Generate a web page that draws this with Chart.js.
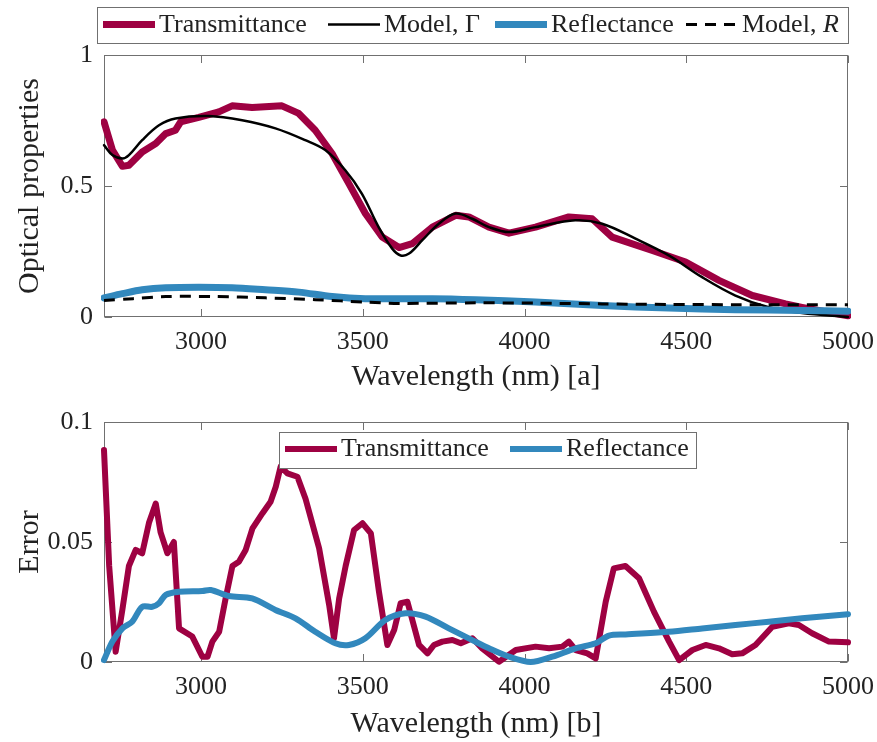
<!DOCTYPE html>
<html>
<head>
<meta charset="utf-8">
<script src="https://cdn.jsdelivr.net/npm/chart.js@4.4.1/dist/chart.umd.min.js"></script>
<style>
  html, body { margin: 0; padding: 0; background: #fff; }
  #wrap { position: relative; width: 877px; height: 742px; }
  #topChart { position: absolute; left: 0; top: 0; }
  #botChart { position: absolute; left: 0; top: 400px; }
</style>
</head>
<body>
<div id="wrap">
  <canvas id="topChart" width="877" height="400"></canvas>
  <canvas id="botChart" width="877" height="342"></canvas>
</div>
<script>
// ---- data ----
const xTicks = [3000, 3500, 4000, 4500, 5000];
const topYTicks = [0, 0.5, 1];
const botYTicks = [0, 0.05, 0.1];

// (a) optical properties
const transWl = [2700, 2726, 2757, 2777, 2818, 2860, 2891, 2921, 2937, 2993, 3055, 3096, 3158, 3250, 3302, 3353, 3405, 3457, 3508, 3560, 3612, 3653, 3715, 3787, 3828, 3890, 3952, 4034, 4137, 4209, 4271, 4395, 4498, 4601, 4704, 4807, 4858, 4930, 5000];
const transVal = [0.745, 0.637, 0.575, 0.579, 0.630, 0.662, 0.700, 0.713, 0.745, 0.762, 0.783, 0.806, 0.800, 0.806, 0.777, 0.713, 0.624, 0.509, 0.395, 0.305, 0.265, 0.280, 0.343, 0.388, 0.382, 0.343, 0.320, 0.343, 0.382, 0.375, 0.305, 0.254, 0.210, 0.140, 0.082, 0.050, 0.037, 0.020, 0.005];

const modelTWl = [2700, 2726, 2757, 2777, 2818, 2870, 2921, 3024, 3127, 3230, 3322, 3384, 3446, 3497, 3549, 3591, 3617, 3643, 3684, 3735, 3787, 3838, 3890, 3952, 4034, 4157, 4240, 4343, 4446, 4549, 4652, 4755, 4858, 5000];
const modelTVal = [0.656, 0.618, 0.605, 0.618, 0.675, 0.732, 0.758, 0.767, 0.751, 0.720, 0.675, 0.637, 0.560, 0.471, 0.343, 0.261, 0.235, 0.242, 0.293, 0.356, 0.395, 0.375, 0.343, 0.324, 0.343, 0.369, 0.356, 0.299, 0.235, 0.152, 0.082, 0.037, 0.015, 0.0];

const reflWl = [2700, 2757, 2818, 2891, 2993, 3096, 3199, 3302, 3405, 3508, 3715, 3849, 4034, 4240, 4446, 4652, 4858, 5000];
const reflVal = [0.073, 0.089, 0.104, 0.112, 0.114, 0.112, 0.104, 0.095, 0.078, 0.070, 0.070, 0.066, 0.057, 0.044, 0.034, 0.028, 0.025, 0.022];

const modelRWl = [2700, 2790, 2891, 3044, 3199, 3353, 3508, 3612, 3849, 4034, 4240, 4446, 4652, 5000];
const modelRVal = [0.063, 0.070, 0.078, 0.078, 0.073, 0.066, 0.057, 0.052, 0.054, 0.053, 0.050, 0.048, 0.047, 0.047];

// (b) error
const errTWl = [2700, 2716, 2736, 2757, 2777, 2798, 2818, 2839, 2860, 2875, 2896, 2916, 2932, 2973, 3004, 3020, 3035, 3056, 3076, 3097, 3117, 3138, 3159, 3190, 3215, 3231, 3246, 3267, 3298, 3323, 3365, 3396, 3411, 3427, 3447, 3473, 3499, 3525, 3550, 3576, 3597, 3617, 3638, 3674, 3700, 3720, 3746, 3777, 3803, 3839, 3869, 3921, 3973, 4034, 4076, 4117, 4137, 4158, 4194, 4220, 4251, 4276, 4312, 4354, 4400, 4447, 4478, 4519, 4560, 4601, 4642, 4673, 4714, 4766, 4817, 4848, 4889, 4941, 5000];
const errTVal = [0.0883, 0.040, 0.0043, 0.022, 0.040, 0.0467, 0.0453, 0.058, 0.066, 0.054, 0.0453, 0.050, 0.014, 0.0106, 0.0022, 0.0022, 0.0085, 0.0126, 0.0265, 0.040, 0.0418, 0.0467, 0.0557, 0.062, 0.0668, 0.073, 0.0814, 0.0786, 0.0772, 0.068, 0.0474, 0.0238, 0.0099, 0.0265, 0.040, 0.055, 0.0578, 0.0536, 0.0293, 0.0071, 0.0133, 0.0245, 0.0251, 0.0071, 0.0036, 0.0071, 0.0085, 0.0092, 0.0078, 0.0099, 0.0057, 0.0001, 0.005, 0.0064, 0.0057, 0.0064, 0.0085, 0.005, 0.0036, 0.0015, 0.0251, 0.039, 0.040, 0.0349, 0.021, 0.0085, 0.0008, 0.005, 0.0071, 0.0057, 0.0032, 0.0036, 0.0071, 0.0147, 0.0161, 0.0154, 0.012, 0.0085, 0.0082];

const errRWl = [2700, 2726, 2757, 2787, 2818, 2849, 2870, 2891, 2932, 3004, 3030, 3086, 3158, 3230, 3292, 3353, 3415, 3457, 3508, 3570, 3632, 3694, 3766, 3840, 3890, 3952, 4019, 4086, 4158, 4220, 4261, 4312, 4446, 4549, 4652, 4755, 4858, 5000];
const errRVal = [0.0008, 0.0085, 0.014, 0.0168, 0.023, 0.023, 0.0245, 0.028, 0.0293, 0.0296, 0.030, 0.0275, 0.0265, 0.0217, 0.0182, 0.0126, 0.0078, 0.0071, 0.0099, 0.0175, 0.0203, 0.0189, 0.014, 0.009, 0.0057, 0.0022, 0.0, 0.0022, 0.0057, 0.0078, 0.011, 0.0115, 0.0126, 0.014, 0.0154, 0.0168, 0.0182, 0.0199];

const RED = '#9E0142';
const BLUE = '#3288BD';
const AXIS = '#707070';
const TEXT = '#222222';
const SERIF = '"Liberation Serif", "Times New Roman", serif';

Chart.defaults.font.family = SERIF;
Chart.defaults.color = TEXT;

function pairs(xs, ys) {
  return xs.map((x, i) => ({ x: x, y: ys[i] }));
}

// scales must not push the plot box around with label overhang
function noOverhang(s) {
  s.paddingLeft = 0; s.paddingRight = 0; s.paddingTop = 0; s.paddingBottom = 0;
}

// box + inward ticks, MATLAB style
const boxAxes = {
  id: 'boxAxes',
  beforeDatasetsDraw(chart) {
    const { ctx, chartArea: a, scales } = chart;
    const L = Math.round(a.left) + 0.5, R = Math.round(a.right) - 0.5;
    const T = Math.round(a.top) + 0.5, B = Math.round(a.bottom) - 0.5;
    const len = 7.5;
    ctx.save();
    ctx.strokeStyle = AXIS;
    ctx.lineWidth = 1;
    ctx.strokeRect(L, T, R - L, B - T);
    ctx.beginPath();
    scales.x.ticks.forEach(t => {
      const px = Math.round(scales.x.getPixelForValue(t.value)) + 0.5;
      ctx.moveTo(px, B); ctx.lineTo(px, B - len);
      ctx.moveTo(px, T); ctx.lineTo(px, T + len);
    });
    scales.y.ticks.forEach(t => {
      const py = Math.round(scales.y.getPixelForValue(t.value)) + 0.5;
      ctx.moveTo(L, py); ctx.lineTo(L + len, py);
      ctx.moveTo(R, py); ctx.lineTo(R - len, py);
    });
    ctx.stroke();
    ctx.restore();
  }
};

// framed legend with a line swatch per dataset
const boxLegend = {
  id: 'boxLegend',
  afterDraw(chart, args, opts) {
    const ctx = chart.ctx;
    const [bx, by, bw, bh] = opts.box;
    ctx.save();
    ctx.fillStyle = '#fff';
    ctx.fillRect(bx, by, bw, bh);
    ctx.strokeStyle = AXIS;
    ctx.lineWidth = 1;
    ctx.strokeRect(bx + 0.5, by + 0.5, bw, bh);
    chart.data.datasets.forEach((ds, i) => {
      const sx = opts.slots[i];
      ctx.strokeStyle = ds.borderColor;
      ctx.lineWidth = ds.borderWidth;
      ctx.lineCap = 'butt';
      ctx.setLineDash(ds.borderDash || []);
      ctx.beginPath();
      ctx.moveTo(sx, opts.lineY);
      ctx.lineTo(sx + opts.swatch, opts.lineY);
      ctx.stroke();
      ctx.setLineDash([]);

      const tail = ds.italicTail || '';
      const head = ds.label.slice(0, ds.label.length - tail.length);
      let tx = sx + opts.swatch + 4;
      ctx.fillStyle = TEXT;
      ctx.textBaseline = 'alphabetic';
      ctx.font = opts.fontSize + 'px ' + SERIF;
      ctx.fillText(head, tx, opts.baseline);
      if (tail) {
        tx += ctx.measureText(head).width;
        ctx.font = 'italic ' + opts.fontSize + 'px ' + SERIF;
        ctx.fillText(tail, tx, opts.baseline);
      }
    });
    ctx.restore();
  }
};

function makeOptions(p) {
  return {
    responsive: false,
    devicePixelRatio: 1,
    animation: false,
    layout: { padding: { left: 0, right: 29, top: p.padTop, bottom: 0 } },
    plugins: {
      legend: { display: false },
      tooltip: { enabled: false },
      boxLegend: p.legend
    },
    scales: {
      x: {
        type: 'linear',
        min: 2700,
        max: 5000,
        afterBuildTicks: s => { s.ticks = xTicks.map(v => ({ value: v })); },
        afterFit: s => { s.height = p.xHeight; noOverhang(s); },
        grid: { display: false, drawTicks: false },
        border: { display: false },
        ticks: {
          autoSkip: false, maxRotation: 0, padding: 12,
          font: { size: 26, lineHeight: 1 },
          callback: v => String(v)
        },
        title: {
          display: true, text: p.xTitle,
          font: { size: 30, lineHeight: 1 },
          padding: { top: 0, bottom: p.xTitlePad }
        }
      },
      y: {
        type: 'linear',
        min: p.yTicks[0],
        max: p.yTicks[p.yTicks.length - 1],
        afterBuildTicks: s => { s.ticks = p.yTicks.map(v => ({ value: v })); },
        afterFit: s => { s.width = 104; noOverhang(s); },
        grid: { display: false, drawTicks: false },
        border: { display: false },
        ticks: {
          autoSkip: false, padding: 11,
          font: { size: 26, lineHeight: 1 },
          callback: v => String(v)
        },
        title: {
          display: true, text: p.yTitle,
          font: { size: 30, lineHeight: 1 },
          padding: { top: 15, bottom: 0 }
        }
      }
    }
  };
}

const lineBase = { pointRadius: 0, fill: false, borderJoinStyle: 'round', borderCapStyle: 'round', clip: 3 };

new Chart(document.getElementById('topChart'), {
  type: 'line',
  data: {
    datasets: [
      Object.assign({}, lineBase, { label: 'Transmittance', data: pairs(transWl, transVal), borderColor: RED, borderWidth: 7, tension: 0, order: 4 }),
      Object.assign({}, lineBase, { label: 'Model, \u0393', data: pairs(modelTWl, modelTVal), borderColor: '#000', borderWidth: 2.5, tension: 0.35, order: 3 }),
      Object.assign({}, lineBase, { label: 'Reflectance', data: pairs(reflWl, reflVal), borderColor: BLUE, borderWidth: 7, tension: 0.3, order: 2 }),
      Object.assign({}, lineBase, { label: 'Model, R', italicTail: 'R', data: pairs(modelRWl, modelRVal), borderColor: '#000', borderWidth: 3, borderDash: [11, 8], borderCapStyle: 'butt', tension: 0.3, order: 1 })
    ]
  },
  options: makeOptions({
    padTop: 55, xHeight: 83, xTitlePad: 8,
    xTitle: 'Wavelength (nm) [a]', yTitle: 'Optical properties', yTicks: topYTicks,
    legend: { box: [97, 7, 751, 36], slots: [103, 328, 495, 686], swatch: 52, lineY: 24.5, baseline: 32, fontSize: 26 }
  }),
  plugins: [boxAxes, boxLegend]
});

new Chart(document.getElementById('botChart'), {
  type: 'line',
  data: {
    datasets: [
      Object.assign({}, lineBase, { label: 'Transmittance', data: pairs(errTWl, errTVal), borderColor: RED, borderWidth: 6, tension: 0, order: 2 }),
      Object.assign({}, lineBase, { label: 'Reflectance', data: pairs(errRWl, errRVal), borderColor: BLUE, borderWidth: 6, tension: 0.3, order: 1 })
    ]
  },
  options: makeOptions({
    padTop: 22, xHeight: 80, xTitlePad: 3,
    xTitle: 'Wavelength (nm) [b]', yTitle: 'Error', yTicks: botYTicks,
    legend: { box: [279, 32, 417, 36], slots: [285, 510], swatch: 52, lineY: 49, baseline: 56, fontSize: 26 }
  }),
  plugins: [boxAxes, boxLegend]
});
</script>
</body>
</html>
